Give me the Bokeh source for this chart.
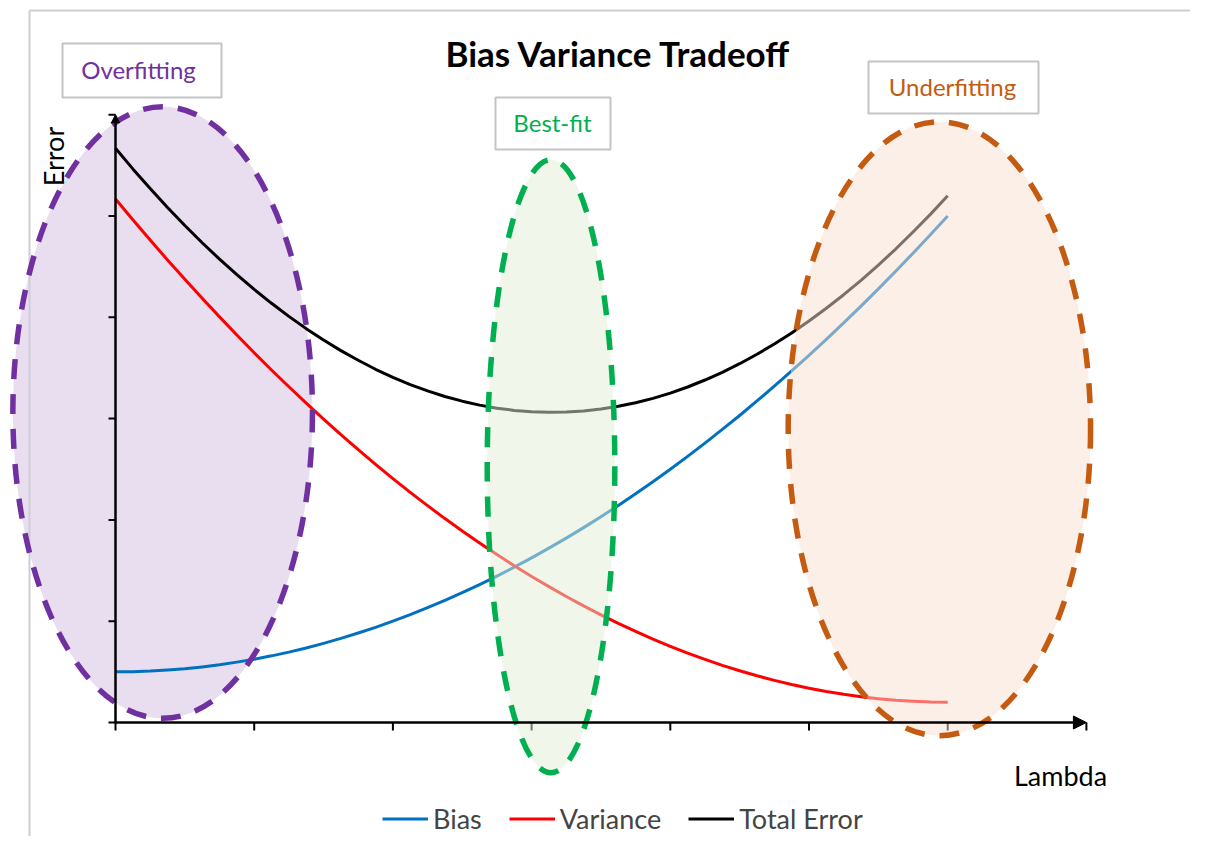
import math
from bokeh.plotting import figure
from bokeh.models import Range1d, Label, Legend, LegendItem, Arrow, NormalHead
from bokeh.embed import file_html
from bokeh.resources import INLINE

# ---------------- data ----------------
lam = [0, 0.125, 0.25, 0.375, 0.5, 0.625, 0.75, 0.875, 1, 1.125, 1.25, 1.375, 1.5,
       1.625, 1.75, 1.875, 2, 2.125, 2.25, 2.375, 2.5, 2.625, 2.75, 2.875, 3,
       3.125, 3.25, 3.375, 3.5, 3.625, 3.75, 3.875, 4, 4.125, 4.25, 4.375, 4.5,
       4.625, 4.75, 4.875, 5, 5.125, 5.25, 5.375, 5.5, 5.625, 5.75, 5.875, 6]
bias = [0.500, 0.502, 0.508, 0.518, 0.531, 0.549, 0.570, 0.596, 0.625, 0.658, 0.695, 0.736, 0.781,
        0.830, 0.883, 0.939, 1.000, 1.064, 1.133, 1.205, 1.281, 1.361, 1.445, 1.533, 1.625,
        1.721, 1.820, 1.924, 2.031, 2.143, 2.258, 2.377, 2.500, 2.627, 2.758, 2.893, 3.031,
        3.174, 3.320, 3.471, 3.625, 3.783, 3.945, 4.111, 4.281, 4.455, 4.633, 4.814, 5.000]
variance = [5.168, 4.963, 4.763, 4.566, 4.375, 4.187, 4.004, 3.825, 3.650, 3.480, 3.314, 3.152, 2.995,
            2.841, 2.693, 2.548, 2.408, 2.272, 2.141, 2.013, 1.891, 1.772, 1.658, 1.548, 1.442,
            1.341, 1.244, 1.151, 1.063, 0.978, 0.899, 0.823, 0.752, 0.685, 0.623, 0.564, 0.511,
            0.461, 0.416, 0.375, 0.338, 0.306, 0.278, 0.254, 0.235, 0.219, 0.209, 0.202, 0.200]
total_error = [5.668, 5.465, 5.271, 5.084, 4.906, 4.736, 4.574, 4.421, 4.275, 4.138, 4.009, 3.888, 3.776,
               3.671, 3.576, 3.487, 3.408, 3.336, 3.274, 3.218, 3.172, 3.133, 3.103, 3.081, 3.067,
               3.062, 3.064, 3.075, 3.094, 3.121, 3.157, 3.200, 3.252, 3.312, 3.381, 3.457, 3.542,
               3.635, 3.736, 3.846, 3.963, 4.089, 4.223, 4.365, 4.516, 4.674, 4.842, 5.016, 5.200]
series_names = ["Bias", "Variance", "Total Error"]
x_ticks = [0, 1, 2, 3, 4, 5, 6, 7]
y_ticks = [0, 1, 2, 3, 4, 5, 6]

region_names = ["Overfitting", "Best-fit", "Underfitting"]
region_cx = [0.34, 3.14, 5.94]
region_cy = [3.06, 2.53, 2.90]
region_w = [2.16, 0.92, 2.18]
region_h = [6.04, 6.05, 6.06]

# ---------------- layout ----------------
W, H = 1190, 836
X0, SX = 115.0, 138.7   # page px of x=0, px per unit
Y0, SY = 722.0, 101.3   # page px of y=0, px per unit
def fx(px): return (px - X0) / SX
def fy(py): return (Y0 - py) / SY

FONT = "Lato"
DASH = "20 15"
p = figure(width=W, height=H, output_backend="svg", toolbar_location=None,
           x_range=Range1d(fx(0), fx(W)), y_range=Range1d(fy(H), fy(0)),
           x_axis_type=None, y_axis_type=None, min_border=0)
p.outline_line_color = None
p.background_fill_color = "white"
p.border_fill_color = "white"

# purple region fill (behind curves)
p.ellipse(x=[region_cx[0]], y=[region_cy[0]], width=[region_w[0]], height=[region_h[0]],
          fill_color="#E8DEF0", fill_alpha=1.0, line_color=None)

# chart area border (light grey, left + top visible)
p.segment(x0=[fx(29), fx(29)], y0=[fy(10), fy(10)], x1=[fx(29), fx(1210)], y1=[fy(860), fy(10)],
          line_color="#D0CCD6", line_width=2)

# curves
r_bias = p.line(lam, bias, line_color="#0070C0", line_width=3, line_join="round")
r_var = p.line(lam, variance, line_color="#FF0000", line_width=3, line_join="round")
r_tot = p.line(lam, total_error, line_color="#000000", line_width=3, line_join="round")

# axes (drawn through the data scales)
p.segment(x0=x_ticks, y0=[0] * len(x_ticks), x1=x_ticks, y1=[-8 / SY] * len(x_ticks),
          line_color="black", line_width=2)
p.segment(x0=[0] * len(y_ticks), y0=y_ticks, x1=[-7 / SX] * len(y_ticks), y1=y_ticks,
          line_color="black", line_width=2)
p.add_layout(Arrow(x_start=0, y_start=0, x_end=x_ticks[-1], y_end=0, line_width=2.5,
                   line_color="black",
                   end=NormalHead(size=13, fill_color="black", line_color="black")))
p.add_layout(Arrow(x_start=0, y_start=0, x_end=0, y_end=y_ticks[-1], line_width=2.5,
                   line_color="black",
                   end=NormalHead(size=8, fill_color="black", line_color="black")))

# purple outline
p.ellipse(x=[region_cx[0]], y=[region_cy[0]], width=[region_w[0]], height=[region_h[0]],
          fill_color=None, line_color="#7030A0", line_width=5.5, line_dash=DASH)
# green + orange regions (translucent, on top)
p.ellipse(x=[region_cx[1]], y=[region_cy[1]], width=[region_w[1]], height=[region_h[1]],
          fill_color="#E1EDD5", fill_alpha=0.5, line_color="#00B050", line_width=5.5,
          line_dash=DASH)
p.ellipse(x=[region_cx[2]], y=[region_cy[2]], width=[region_w[2]], height=[region_h[2]],
          fill_color="#F7DFD1", fill_alpha=0.5, line_color="#C55A11", line_width=5.5,
          line_dash=DASH)

# region label boxes
box_cx = [141.5, 552.5, 953]
box_cy = [70, 123, 87]
box_w = [159, 115, 170]
box_h = [54, 52, 52]
text_cx = [138, 552, 952]
text_cy = [69, 122, 86]
text_col = ["#7030A0", "#00B050", "#C55A11"]
p.rect(x=[fx(v) for v in box_cx], y=[fy(v) for v in box_cy], width=box_w, height=box_h,
       width_units="screen", height_units="screen", fill_color="white",
       line_color="#C4C4C4", line_width=2)
for name, tx, ty, c in zip(region_names, text_cx, text_cy, text_col):
    p.add_layout(Label(x=fx(tx), y=fy(ty), text=name, text_align="center",
                       text_baseline="middle", text_color=c, text_font=FONT,
                       text_font_size="24px"))

# title and axis titles
p.add_layout(Label(x=fx(618), y=fy(52), text="Bias Variance Tradeoff", text_align="center",
                   text_baseline="middle", text_font=FONT, text_font_size="35px",
                   text_font_style="bold", text_color="black"))
p.add_layout(Label(x=fx(53), y=fy(156), text="Error", text_align="center",
                   text_baseline="middle", angle=math.pi / 2, text_font=FONT,
                   text_font_size="27px", text_color="black"))
p.add_layout(Label(x=fx(1060), y=fy(775), text="Lambda", text_align="center",
                   text_baseline="middle", text_font=FONT, text_font_size="27px",
                   text_color="black"))

# legend
legend = Legend(items=[LegendItem(label=series_names[0], renderers=[r_bias]),
                       LegendItem(label=series_names[1], renderers=[r_var]),
                       LegendItem(label=series_names[2], renderers=[r_tot])],
                orientation="horizontal", location=(382, 1),
                border_line_color=None, background_fill_alpha=0, padding=0, margin=0,
                spacing=27, label_standoff=5, glyph_width=46, glyph_height=27,
                label_height=27, label_text_font=FONT, label_text_font_size="27px")
p.add_layout(legend)

open("out.html", "w").write(file_html(p, INLINE))
